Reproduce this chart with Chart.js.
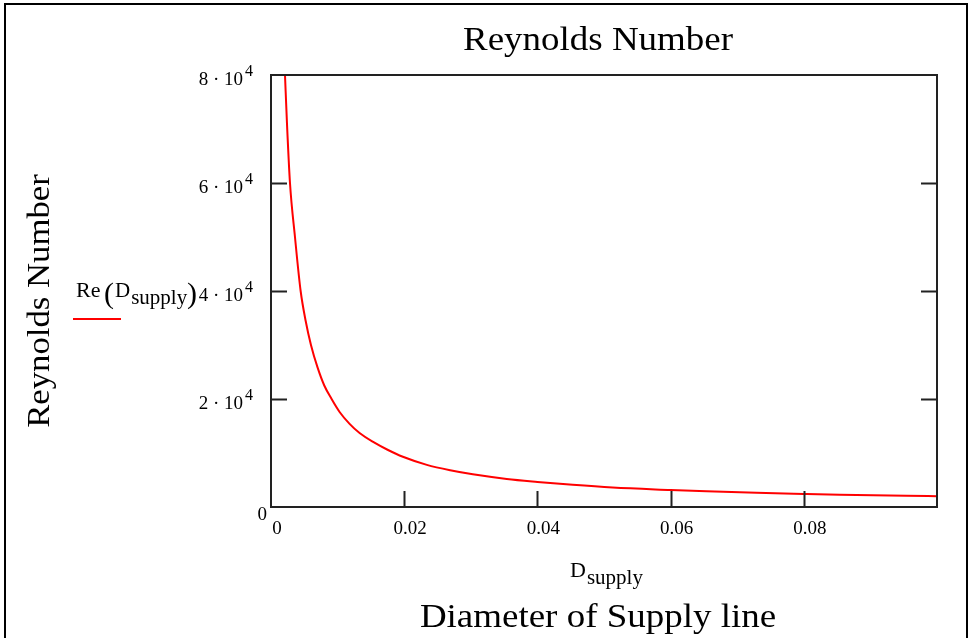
<!DOCTYPE html>
<html>
<head>
<meta charset="utf-8">
<title>Reynolds Number</title>
<script src="https://cdn.jsdelivr.net/npm/chart.js@4.4.1/dist/chart.umd.min.js"></script>
<style>
    html, body { margin: 0; padding: 0; background: #fff; }
    canvas { display: block; }
</style>
</head>
<body>
<canvas id="reChart" width="970" height="638"></canvas>
<script>
// diameter of supply line (x) and Reynolds number (y)
const dSupply = [0.0021, 0.0024, 0.00285, 0.0036, 0.00445, 0.0052, 0.006, 0.007, 0.008, 0.0091,
    0.0103, 0.0118, 0.0133, 0.0154, 0.0175, 0.0198, 0.0234, 0.0269, 0.0303, 0.0354,
    0.04, 0.0453, 0.0513, 0.06, 0.0654, 0.0729, 0.08, 0.0854, 0.0954, 0.1];
const reValues = [80000, 71000, 60000, 50000, 40000, 34500, 30000, 25800, 22500, 20000,
    17600, 15400, 13700, 12000, 10600, 9300, 7800, 6800, 6050, 5200,
    4650, 4100, 3600, 3150, 2900, 2620, 2420, 2280, 2080, 2010];

const xTicks = [0, 0.02, 0.04, 0.06, 0.08];
const xTickLabels = ["0", "0.02", "0.04", "0.06", "0.08"];
const yTicks = [0, 20000, 40000, 60000, 80000];
const yTickMantissa = ["0", "2", "4", "6", "8"];

const FONT = '"Liberation Serif", "Times New Roman", serif';

function txt(ctx, s, x, y, size, align, sx) {
    ctx.save();
    ctx.font = size + "px " + FONT;
    ctx.textAlign = align || "left";
    ctx.textBaseline = "alphabetic";
    ctx.translate(x, y);
    ctx.scale(sx || 1, 1);
    ctx.fillText(s, 0, 0);
    ctx.restore();
}

function txtWidth(ctx, s, size, sx) {
    ctx.font = size + "px " + FONT;
    return ctx.measureText(s).width * (sx || 1);
}

const mathcadDecor = {
    id: "mathcadDecor",
    afterDraw(chart) {
        const ctx = chart.ctx;
        const area = chart.chartArea;
        const xs = chart.scales.x;
        const ys = chart.scales.y;
        ctx.save();
        ctx.fillStyle = "#000";

        // outer frame
        ctx.strokeStyle = "#000";
        ctx.lineWidth = 2;
        ctx.strokeRect(5, 4, 962, 700);

        // plot box
        ctx.strokeStyle = "#222";
        ctx.lineWidth = 2;
        ctx.strokeRect(area.left, area.top, area.right - area.left, area.bottom - area.top);

        // inner ticks: left, right, bottom
        ctx.beginPath();
        yTicks.forEach((v) => {
            if (v === 0 || v === 80000) return;
            const py = Math.round(ys.getPixelForValue(v)) + 0.5;
            ctx.moveTo(area.left, py);
            ctx.lineTo(area.left + 16, py);
            ctx.moveTo(area.right - 16, py);
            ctx.lineTo(area.right, py);
        });
        xTicks.forEach((v) => {
            if (v === 0) return;
            const px = Math.round(xs.getPixelForValue(v)) + 0.5;
            ctx.moveTo(px, area.bottom);
            ctx.lineTo(px, area.bottom - 16);
        });
        ctx.stroke();

        // x tick labels
        xTicks.forEach((v, i) => {
            const px = xs.getPixelForValue(v) + 6;
            txt(ctx, xTickLabels[i], px, area.bottom + 27, 19, "center");
        });

        // y tick labels, m·10^4
        yTicks.forEach((v, i) => {
            const py = ys.getPixelForValue(v);
            if (v === 0) {
                txt(ctx, "0", area.left - 4, py + 13, 19, "right");
                return;
            }
            txt(ctx, yTickMantissa[i] + " \u00b7 10", area.left - 28, py + 10, 19, "right");
            txt(ctx, "4", area.left - 26, py + 1, 16, "left");
        });

        // title and axis titles
        txt(ctx, "Reynolds Number", 598, 50, 33, "center", 1.12);
        txt(ctx, "Diameter of Supply line", 598, 627, 33, "center", 1.12);

        ctx.save();
        ctx.translate(49, 301);
        ctx.rotate(-Math.PI / 2);
        txt(ctx, "Reynolds Number", 0, 0, 31, "center", 1.12);
        ctx.restore();

        // D_supply under the x axis
        txt(ctx, "D", 570, 577, 22, "left");
        txt(ctx, "supply", 570 + txtWidth(ctx, "D", 22) + 1, 584, 21, "left");

        // legend: Re(D_supply) with red line
        txt(ctx, "Re", 76, 297, 20, "left", 1.1);
        txt(ctx, "(", 104, 303, 30, "left");
        txt(ctx, "D", 115, 297, 21, "left");
        txt(ctx, "supply", 115 + txtWidth(ctx, "D", 21) + 1, 304, 21, "left");
        txt(ctx, ")", 187, 303, 30, "left");
        ctx.strokeStyle = "#ff0000";
        ctx.lineWidth = 2;
        ctx.beginPath();
        ctx.moveTo(73, 319);
        ctx.lineTo(121, 319);
        ctx.stroke();

        ctx.restore();
    }
};

const points = dSupply.map((d, i) => ({ x: d, y: reValues[i] }));

new Chart(document.getElementById("reChart").getContext("2d"), {
    type: "line",
    data: {
        datasets: [
            {
                label: "Re(Dsupply)",
                data: points,
                borderColor: "#ff0000",
                borderWidth: 2,
                pointRadius: 0,
                cubicInterpolationMode: "monotone",
                fill: false,
            },
        ],
    },
    options: {
        responsive: false,
        maintainAspectRatio: false,
        animation: false,
        devicePixelRatio: 1,
        layout: {
            padding: { left: 271, right: 33, top: 75, bottom: 131 },
        },
        plugins: {
            legend: { display: false },
            title: { display: false },
            tooltip: { enabled: false },
        },
        scales: {
            x: { type: "linear", min: 0, max: 0.1, display: false },
            y: { type: "linear", min: 0, max: 80000, display: false },
        },
    },
    plugins: [mathcadDecor],
});
</script>
</body>
</html>
